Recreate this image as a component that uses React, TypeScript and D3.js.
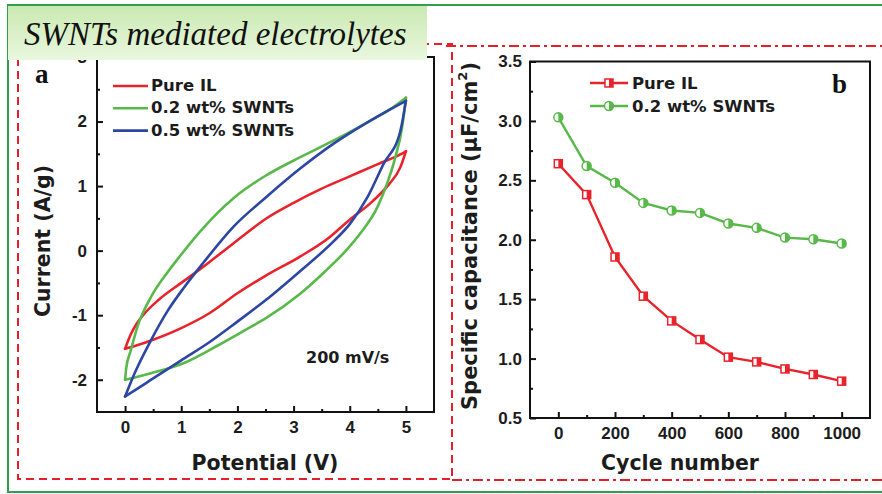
import React, { useEffect, useRef } from "react";
import * as d3 from "d3";

const redColor = "#e8232b";
const greenColor = "#58b94a";
const blueColor = "#2d46a3";
const tickFont = "'Liberation Sans', Arial, sans-serif";
const labelFont = "'DejaVu Sans', sans-serif";

// panel a : cyclic voltammograms, [potential V, current A/g]
const pureUpper: [number, number][] = [
  [0, -1.52], [0.1, -1.3], [0.2, -1.14], [0.34, -0.98], [0.6, -0.76], [1.0, -0.5],
  [1.3, -0.31], [1.6, -0.11], [2.0, 0.16], [2.5, 0.49], [3.0, 0.74], [3.5, 0.96],
  [4.0, 1.15], [4.5, 1.34], [4.9, 1.49], [5.0, 1.54],
];
const pureLower: [number, number][] = [
  [5.0, 1.54], [4.9, 1.29], [4.7, 1.03], [4.4, 0.76], [4.0, 0.48], [3.6, 0.18],
  [3.1, -0.1], [2.5, -0.39], [2.0, -0.66], [1.5, -0.97], [1.0, -1.2], [0.5, -1.38],
  [0.2, -1.47], [0, -1.52],
];
const swnt02Upper: [number, number][] = [
  [0, -2.0], [0.02, -1.82], [0.1, -1.55], [0.22, -1.18], [0.46, -0.72], [0.76, -0.33],
  [1.0, -0.06], [1.35, 0.31], [1.94, 0.82], [2.5, 1.16], [3.1, 1.44], [3.7, 1.7],
  [4.3, 1.98], [4.7, 2.18], [5.0, 2.37],
];
const swnt02Lower: [number, number][] = [
  [5.0, 2.37], [4.93, 1.9], [4.81, 1.44], [4.64, 0.98], [4.49, 0.67], [4.2, 0.28],
  [3.9, -0.03], [3.55, -0.33], [3.1, -0.68], [2.5, -1.05], [2.24, -1.18], [1.65, -1.47],
  [1.05, -1.74], [0.46, -1.9], [0.1, -1.98], [0, -2.0],
];
const swnt05Upper: [number, number][] = [
  [0, -2.26], [0.17, -1.9], [0.46, -1.39], [0.76, -0.93], [1.05, -0.57], [1.4, -0.18],
  [1.94, 0.38], [2.5, 0.82], [3.1, 1.26], [3.7, 1.65], [4.3, 1.98], [5.0, 2.32],
];
const swnt05Lower: [number, number][] = [
  [5.0, 2.32], [4.9, 1.85], [4.6, 1.34], [4.31, 0.82], [4.0, 0.41], [3.72, 0.15],
  [3.1, -0.33], [2.5, -0.77], [2.0, -1.1], [1.5, -1.42], [1.0, -1.7], [0.5, -1.98],
  [0.2, -2.15], [0, -2.26],
];
const cvSeries = [
  { name: "Pure IL", color: redColor, upper: pureUpper, lower: pureLower },
  { name: "0.2 wt% SWNTs", color: greenColor, upper: swnt02Upper, lower: swnt02Lower },
  { name: "0.5 wt% SWNTs", color: blueColor, upper: swnt05Upper, lower: swnt05Lower },
];
const potTicks = [0, 1, 2, 3, 4, 5];
const potMinor = [0.5, 1.5, 2.5, 3.5, 4.5];
const curTicks = [-2, -1, 0, 1, 2, 3];
const curMinor = [-1.5, -0.5, 0.5, 1.5, 2.5];

// panel b : capacitance vs cycle
const cycles = [0, 100, 200, 300, 400, 500, 600, 700, 800, 900, 1000];
const capPure = [2.64, 2.38, 1.855, 1.525, 1.317, 1.16, 1.012, 0.972, 0.913, 0.866, 0.81];
const capSwnt = [3.03, 2.62, 2.48, 2.31, 2.246, 2.226, 2.137, 2.1, 2.018, 2.004, 1.968];
const cycTicks = [0, 200, 400, 600, 800, 1000];
const cycMinor = [100, 300, 500, 700, 900];
const capTicks = [0.5, 1.0, 1.5, 2.0, 2.5, 3.0, 3.5];
const capMinor = [0.75, 1.25, 1.75, 2.25, 2.75, 3.25];

function styleAxis(g: any) {
  g.select(".domain").remove();
  g.selectAll("line").attr("stroke", "#111").attr("stroke-width", 2);
  g.selectAll("text")
    .attr("font-family", tickFont)
    .attr("font-weight", "bold")
    .attr("font-size", 17)
    .attr("fill", "#1c1c1c");
}

function squareMark(g: any, cx: number, cy: number, color: string) {
  g.append("rect").attr("x", cx - 4).attr("y", cy - 4).attr("width", 8).attr("height", 8)
    .attr("fill", "#fff").attr("stroke", color).attr("stroke-width", 1.5);
  g.append("rect").attr("x", cx).attr("y", cy - 4).attr("width", 4).attr("height", 8).attr("fill", color);
}

function circleMark(g: any, cx: number, cy: number, color: string) {
  const r = 4.5;
  g.append("circle").attr("cx", cx).attr("cy", cy).attr("r", r)
    .attr("fill", "#fff").attr("stroke", color).attr("stroke-width", 1.5);
  g.append("path").attr("d", `M${cx},${cy - r}A${r},${r} 0 0 1 ${cx},${cy + r}Z`).attr("fill", color);
}

export default function App() {
  const svgRef = useRef<SVGSVGElement>(null);

  useEffect(() => {
    document.body.style.margin = "0";
    const svg = d3.select(svgRef.current);
    svg.selectAll("*").remove();

    svg.append("rect").attr("width", 882).attr("height", 494).attr("fill", "#fff");

    // outer green frame and panel boxes
    svg.append("rect").attr("x", 8).attr("y", 5).attr("width", 885).attr("height", 487)
      .attr("fill", "none").attr("stroke", "#2f9e4f").attr("stroke-width", 2);
    svg.append("rect").attr("x", 18).attr("y", 44).attr("width", 434).attr("height", 435)
      .attr("fill", "none").attr("stroke", "#e3202a").attr("stroke-width", 2).attr("stroke-dasharray", "8,5");
    svg.append("path").attr("d", "M446,46H884M452,480H884")
      .attr("fill", "none").attr("stroke", "#e3202a").attr("stroke-width", 2).attr("stroke-dasharray", "10,4,3,4");

    // ---------- panel a ----------
    const xL = d3.scaleLinear().domain([-0.5, 5.5]).range([97, 434]);
    const yL = d3.scaleLinear().domain([-2.5, 3]).range([412, 57]);

    svg.append("g").attr("transform", "translate(0,412)")
      .call(d3.axisBottom(xL).tickValues(potMinor).tickSize(-3).tickFormat(() => "")).call(styleAxis);
    svg.append("g").attr("transform", "translate(0,412)")
      .call(d3.axisBottom(xL).tickValues(potTicks).tickSizeInner(-6).tickSizeOuter(0).tickPadding(9)
        .tickFormat(d3.format("d"))).call(styleAxis);
    svg.append("g").attr("transform", "translate(97,0)")
      .call(d3.axisLeft(yL).tickValues(curMinor).tickSize(-3).tickFormat(() => "")).call(styleAxis);
    svg.append("g").attr("transform", "translate(97,0)")
      .call(d3.axisLeft(yL).tickValues(curTicks).tickSizeInner(-6).tickSizeOuter(0).tickPadding(10)
        .tickFormat((d: any) => String(d).replace("−", "-"))).call(styleAxis);

    const cvLine = d3.line<[number, number]>()
      .x((d) => xL(d[0])).y((d) => yL(d[1]))
      .curve(d3.curveMonotoneX);
    cvSeries.forEach((s) => {
      [s.upper, [...s.lower].reverse()].forEach((branch) => {
        svg.append("path").attr("d", cvLine(branch) as string)
          .attr("fill", "none").attr("stroke", s.color).attr("stroke-width", 2.6)
          .attr("stroke-linecap", "round").attr("stroke-linejoin", "round");
      });
    });

    svg.append("rect").attr("x", 97).attr("y", 57).attr("width", 337).attr("height", 355)
      .attr("fill", "none").attr("stroke", "#111").attr("stroke-width", 2);

    const legA = svg.append("g");
    cvSeries.forEach((s, i) => {
      const cy = 86 + i * 22.3;
      legA.append("line").attr("x1", 113).attr("x2", 148).attr("y1", cy).attr("y2", cy)
        .attr("stroke", s.color).attr("stroke-width", 2.6);
      legA.append("text").attr("x", 151).attr("y", cy + 5).text(s.name)
        .attr("font-family", labelFont).attr("font-weight", "bold").attr("font-size", 16.5).attr("fill", "#1c1c1c");
    });

    svg.append("text").attr("x", 306).attr("y", 363).text("200 mV/s")
      .attr("font-family", labelFont).attr("font-weight", "bold").attr("font-size", 16).attr("fill", "#1c1c1c");

    svg.append("text").attr("x", 265).attr("y", 470).attr("text-anchor", "middle").text("Potential (V)")
      .attr("font-family", labelFont).attr("font-weight", "bold").attr("font-size", 20.5).attr("fill", "#1c1c1c");
    svg.append("text").attr("transform", "translate(50,241) rotate(-90)").attr("text-anchor", "middle")
      .text("Current (A/g)")
      .attr("font-family", labelFont).attr("font-weight", "bold").attr("font-size", 20.5).attr("fill", "#1c1c1c");

    svg.append("text").attr("x", 35).attr("y", 83).text("a")
      .attr("font-family", "'Liberation Serif', serif").attr("font-weight", "bold").attr("font-size", 27).attr("fill", "#111");

    // ---------- panel b ----------
    const xR = d3.scaleLinear().domain([-100, 1100]).range([530, 870]);
    const yR = d3.scaleLinear().domain([0.5, 3.5]).range([418, 61.5]);

    svg.append("g").attr("transform", "translate(0,418)")
      .call(d3.axisBottom(xR).tickValues(cycMinor).tickSize(-3).tickFormat(() => "")).call(styleAxis);
    svg.append("g").attr("transform", "translate(0,418)")
      .call(d3.axisBottom(xR).tickValues(cycTicks).tickSizeInner(-6).tickSizeOuter(0).tickPadding(9)
        .tickFormat(d3.format("d"))).call(styleAxis);
    svg.append("g").attr("transform", "translate(530,0)")
      .call(d3.axisLeft(yR).tickValues(capMinor).tickSize(-3).tickFormat(() => "")).call(styleAxis);
    svg.append("g").attr("transform", "translate(530,0)")
      .call(d3.axisLeft(yR).tickValues(capTicks).tickSizeInner(-6).tickSizeOuter(0).tickPadding(8)
        .tickFormat(d3.format(".1f"))).call(styleAxis);

    const capLine = d3.line<number>().x((_, i) => xR(cycles[i])).y((d) => yR(d));
    const capSeries = [
      { name: "Pure IL", color: redColor, values: capPure, mark: squareMark },
      { name: "0.2 wt% SWNTs", color: greenColor, values: capSwnt, mark: circleMark },
    ];
    capSeries.forEach((s) => {
      svg.append("path").attr("d", capLine(s.values) as string)
        .attr("fill", "none").attr("stroke", s.color).attr("stroke-width", 2.4);
      const mg = svg.append("g");
      s.values.forEach((v, i) => s.mark(mg, xR(cycles[i]), yR(v), s.color));
    });

    svg.append("rect").attr("x", 530).attr("y", 61.5).attr("width", 340).attr("height", 356.5)
      .attr("fill", "none").attr("stroke", "#111").attr("stroke-width", 2);

    const legB = svg.append("g");
    capSeries.forEach((s, i) => {
      const cy = 83 + i * 23;
      legB.append("line").attr("x1", 590).attr("x2", 628).attr("y1", cy).attr("y2", cy)
        .attr("stroke", s.color).attr("stroke-width", 2.4);
      s.mark(legB, 609, cy, s.color);
      legB.append("text").attr("x", 632).attr("y", cy + 5.5).text(s.name)
        .attr("font-family", labelFont).attr("font-weight", "bold").attr("font-size", 16.5).attr("fill", "#1c1c1c");
    });

    svg.append("text").attr("x", 680).attr("y", 470).attr("text-anchor", "middle").text("Cycle number")
      .attr("font-family", labelFont).attr("font-weight", "bold").attr("font-size", 20.5).attr("fill", "#1c1c1c");
    const yt = svg.append("text").attr("transform", "translate(477,236) rotate(-90)").attr("text-anchor", "middle")
      .attr("font-family", labelFont).attr("font-weight", "bold").attr("font-size", 21).attr("fill", "#1c1c1c");
    yt.append("tspan").text("Specific capacitance (\u03bcF/cm");
    yt.append("tspan").attr("dy", -10).attr("font-size", 13).text("2");
    yt.append("tspan").attr("dy", 10).text(")");

    svg.append("text").attr("x", 832).attr("y", 93).text("b")
      .attr("font-family", "'Liberation Serif', serif").attr("font-weight", "bold").attr("font-size", 27).attr("fill", "#111");

    // ---------- title banner ----------
    const defs = svg.append("defs");
    const grad = defs.append("linearGradient").attr("id", "titleGrad").attr("x1", 0).attr("y1", 0).attr("x2", 0).attr("y2", 1);
    grad.append("stop").attr("offset", "0%").attr("stop-color", "#c9e9b0");
    grad.append("stop").attr("offset", "100%").attr("stop-color", "#e9f7df");
    svg.append("rect").attr("x", 8).attr("y", 5).attr("width", 419).attr("height", 55).attr("fill", "url(#titleGrad)");
    svg.append("line").attr("x1", 8).attr("x2", 427).attr("y1", 5).attr("y2", 5)
      .attr("stroke", "#2f9e4f").attr("stroke-width", 2);
    svg.append("text").attr("x", 24).attr("y", 45).text("SWNTs mediated electrolytes")
      .attr("font-family", "'Liberation Serif', serif").attr("font-style", "italic").attr("font-size", 33).attr("fill", "#111");
  }, []);

  return <svg ref={svgRef} width={882} height={494} style={{ display: "block" }} />;
}
